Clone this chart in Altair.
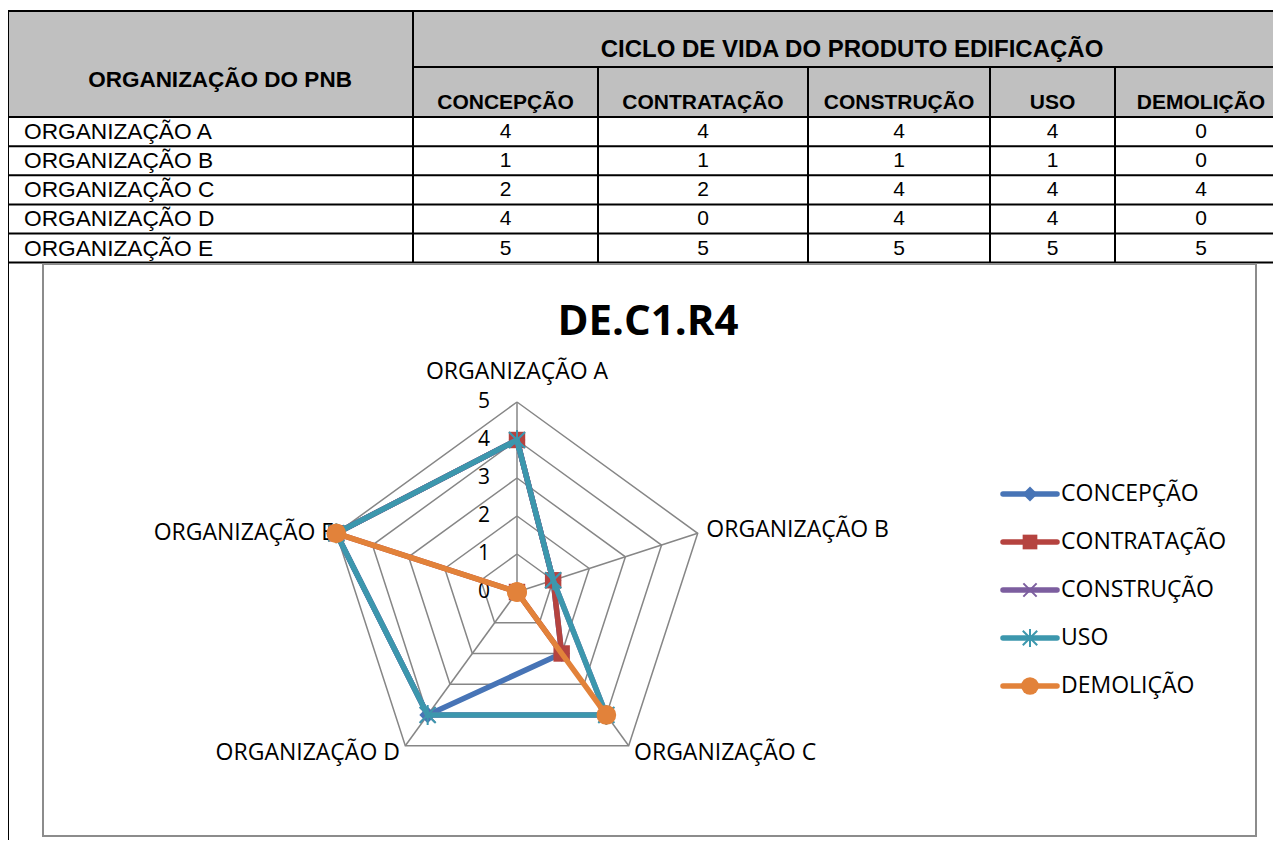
import altair as alt
import pandas as pd

# ---------------- data ----------------
ORGS = ["ORGANIZAÇÃO A", "ORGANIZAÇÃO B", "ORGANIZAÇÃO C", "ORGANIZAÇÃO D", "ORGANIZAÇÃO E"]
PHASES = ["CONCEPÇÃO", "CONTRATAÇÃO", "CONSTRUÇÃO", "USO", "DEMOLIÇÃO"]
CONCEPCAO = [4, 1, 2, 4, 5]
CONTRATACAO = [4, 1, 2, 0, 5]
CONSTRUCAO = [4, 1, 4, 4, 5]
USO = [4, 1, 4, 4, 5]
DEMOLICAO = [0, 0, 4, 0, 5]
SERIES = [CONCEPCAO, CONTRATACAO, CONSTRUCAO, USO, DEMOLICAO]
RADIAL_TICKS = [0, 1, 2, 3, 4, 5]
GRID_LEVELS = [1, 2, 3, 4, 5]
CHART_TITLE = "DE.C1.R4"
HEAD_LEFT = "ORGANIZAÇÃO DO PNB"
HEAD_GROUP = "CICLO DE VIDA DO PRODUTO EDIFICAÇÃO"

# ---------------- layout / style ----------------
W, H = 1265, 832
X0, Y0 = 8, 8
XS = alt.Scale(domain=[X0, X0 + W], nice=False, zero=False)
YS = alt.Scale(domain=[Y0, Y0 + H], nice=False, zero=False, reverse=True)

TABLE_FONT = "Liberation Sans"
CHART_FONT = "Open Sans"
RIGHT = X0 + W
COL_X = [8, 413, 598, 808, 990, 1115, 1290]
ROW_Y = [117, 146.2, 175.3, 204.4, 233.5, 262.6]
TOP_Y, SUB_Y = 11, 67

CX, CY, UNIT = 517, 592, 38
N = 5
COLORS = ["#4774B6", "#B5433F", "#7C5E9F", "#3C97AD", "#E2823A"]
SHAPES = ["diamond", "square", "M-1,-1L1,1M-1,1L1,-1",
          "M-1,-1L1,1M-1,1L1,-1M0,-1.25L0,1.25", "circle"]
FILLED = [True, True, False, False, True]
MSIZE = [280, 270, 220, 260, 390]
LABEL_R = [5.8, 5.24, 5.24, 5.24, 5.06]
LEG_Y = [494, 542, 590, 638, 686]
LW = 5.5


def px(f):
    return alt.X(f"{f}:Q", scale=XS, axis=None)


def py(f):
    return alt.Y(f"{f}:Q", scale=YS, axis=None)


def texts(df, font, size, weight="normal", align="center", baseline="middle"):
    return alt.Chart(df).mark_text(
        font=font, fontSize=size, fontWeight=weight, align=align,
        baseline=baseline, color="black"
    ).encode(x=px("x"), y=py("y"), text="t:N")


layers = []

# ---------------- table ----------------
layers.append(alt.Chart(pd.DataFrame([{"x": X0, "x2": RIGHT, "y": TOP_Y, "y2": ROW_Y[0]}]))
              .mark_rect(color="#C0C0C0")
              .encode(x=px("x"), x2="x2:Q", y=py("y"), y2="y2:Q"))

segs = [(X0, TOP_Y, RIGHT, TOP_Y), (X0, TOP_Y, X0, Y0 + H),
        (COL_X[1], TOP_Y, COL_X[1], ROW_Y[-1]), (COL_X[1], SUB_Y, RIGHT, SUB_Y)]
for c in COL_X[2:6]:
    segs.append((c, SUB_Y, c, ROW_Y[-1]))
for r in ROW_Y:
    segs.append((X0, r, RIGHT, r))
seg_df = pd.DataFrame(segs, columns=["x", "y", "x2", "y2"])
layers.append(alt.Chart(seg_df).mark_rule(color="black", strokeWidth=2)
              .encode(x=px("x"), y=py("y"), x2="x2:Q", y2="y2:Q"))

col_cx = [(COL_X[i + 1] + COL_X[i + 2]) / 2 for i in range(5)]
col_cx[-1] = 1201
row_cy = [(ROW_Y[i] + ROW_Y[i + 1]) / 2 + 0.5 for i in range(5)]

layers.append(texts(pd.DataFrame([{"x": 220, "y": 80, "t": HEAD_LEFT}]),
                    TABLE_FONT, 22.5, "bold"))
layers.append(texts(pd.DataFrame([{"x": 852, "y": 50, "t": HEAD_GROUP}]), TABLE_FONT, 24, "bold"))
layers.append(texts(pd.DataFrame({"x": col_cx, "y": [103] * 5, "t": PHASES}), TABLE_FONT, 21, "bold"))
layers.append(texts(pd.DataFrame({"x": [24] * 5, "y": row_cy, "t": ORGS}), TABLE_FONT, 22.7, align="left"))
cells = []
for j, ser in enumerate(SERIES):
    for i, v in enumerate(ser):
        cells.append({"x": col_cx[j], "y": row_cy[i], "t": str(v)})
layers.append(texts(pd.DataFrame(cells), TABLE_FONT, 21))

# ---------------- chart frame ----------------
layers.append(alt.Chart(pd.DataFrame([{"x": 43, "x2": 1256, "y": 264, "y2": 836}]))
              .mark_rect(fill=None, stroke="#8C8C8C", strokeWidth=2)
              .encode(x=px("x"), x2="x2:Q", y=py("y"), y2="y2:Q"))

PX = f"{CX} + {UNIT} * datum.v * sin(2 * PI * datum.k / {N})"
PY = f"{CY} - {UNIT} * datum.v * cos(2 * PI * datum.k / {N})"

# grid pentagons
grid = pd.DataFrame([{"lvl": l, "v": l, "k": k} for l in GRID_LEVELS for k in range(N + 1)])
layers.append(alt.Chart(grid).transform_calculate(px=PX, py=PY)
              .mark_line(color="#868686", strokeWidth=1.5)
              .encode(x=px("px"), y=py("py"), detail="lvl:N", order="k:Q"))
# spokes
spk = pd.DataFrame({"k": list(range(N)), "v": [max(GRID_LEVELS)] * N})
layers.append(alt.Chart(spk).transform_calculate(
    px=PX, py=PY, cx=f"{CX}", cy=f"{CY}")
    .mark_rule(color="#868686", strokeWidth=1.5)
    .encode(x=px("cx"), y=py("cy"), x2="px:Q", y2="py:Q"))

# radial tick labels
tick = pd.DataFrame({"v": RADIAL_TICKS, "t": [str(t) for t in RADIAL_TICKS]})
layers.append(alt.Chart(tick).transform_calculate(ty=f"{CY} - {UNIT} * datum.v", tx="484")
              .mark_text(font=CHART_FONT, fontSize=21, color="black", align="center", baseline="middle")
              .encode(x=px("tx"), y=py("ty"), text="t:N"))

# category labels
cat = pd.DataFrame({"k": list(range(N)), "v": LABEL_R, "t": ORGS,
                    "al": ["center", "left", "left", "right", "right"]})
for a in ["center", "left", "right"]:
    layers.append(alt.Chart(cat).transform_filter(f"datum.al == '{a}'")
                  .transform_calculate(px=PX, py=PY)
                  .mark_text(font=CHART_FONT, fontSize=23, color="black", align=a, baseline="middle")
                  .encode(x=px("px"), y=py("py"), text="t:N"))

# series
for s, (name, vals) in enumerate(zip(PHASES, SERIES)):
    df = pd.DataFrame({"k": list(range(N + 1)), "v": vals + [vals[0]], "serie": name})
    base = alt.Chart(df).transform_calculate(px=PX, py=PY)
    layers.append(base.mark_line(color=COLORS[s], strokeWidth=LW, strokeJoin="round", strokeCap="round")
                  .encode(x=px("px"), y=py("py"), order="k:Q"))
    if FILLED[s]:
        pm = base.transform_filter(f"datum.k < {N}").mark_point(
            shape=SHAPES[s], size=MSIZE[s], filled=True, color=COLORS[s], opacity=1)
    else:
        pm = base.transform_filter(f"datum.k < {N}").mark_point(
            shape=SHAPES[s], size=MSIZE[s], filled=False, color=COLORS[s], strokeWidth=2, opacity=1)
    layers.append(pm.encode(x=px("px"), y=py("py")))

# legend
for s, name in enumerate(PHASES):
    ldf = pd.DataFrame([{"x": 1003, "x2": 1057, "y": LEG_Y[s], "mx": 1030, "tx": 1061, "t": name}])
    lb = alt.Chart(ldf)
    layers.append(lb.mark_rule(color=COLORS[s], strokeWidth=LW, strokeCap="round")
                  .encode(x=px("x"), x2="x2:Q", y=py("y")))
    layers.append(lb.mark_point(shape=SHAPES[s], size=MSIZE[s] * 0.8, filled=FILLED[s], color=COLORS[s],
                                strokeWidth=2, opacity=1)
                  .encode(x=px("mx"), y=py("y")))
    layers.append(lb.mark_text(font=CHART_FONT, fontSize=23, align="left", baseline="middle", color="black")
                  .encode(x=px("tx"), y=py("y"), text="t:N"))

# title
layers.append(texts(pd.DataFrame([{"x": 648, "y": 322, "t": CHART_TITLE}]), CHART_FONT, 42, "bold"))

chart = alt.layer(*layers).properties(
    width=W, height=H,
    autosize=alt.AutoSizeParams(type="none"),
    padding=0,
    background="white",
).configure_view(stroke=None)

chart.save("out.html", embed_options={"renderer": "svg", "actions": False})
